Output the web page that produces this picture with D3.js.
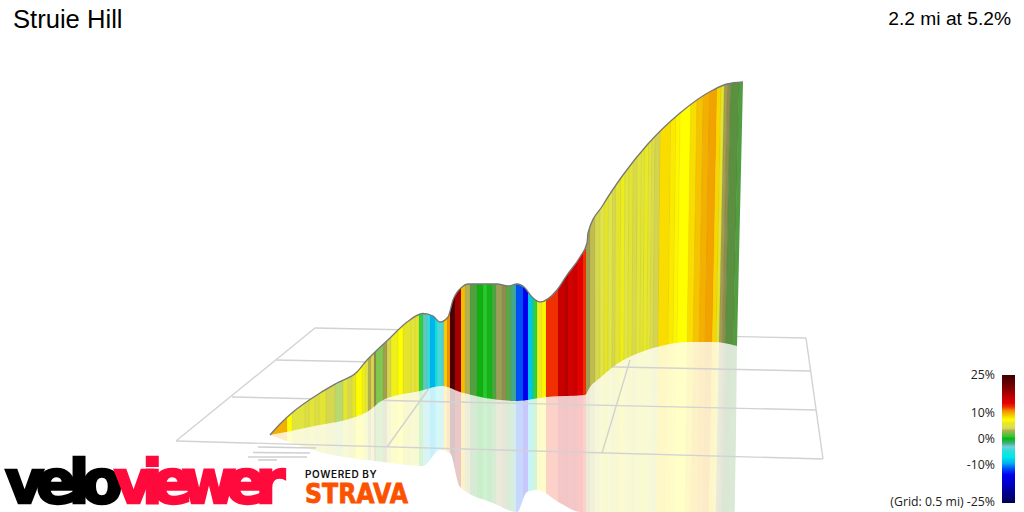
<!DOCTYPE html>
<html>
<head>
<meta charset="utf-8">
<style>
  html, body { margin: 0; padding: 0; background: #fff; }
  svg { display: block; }
</style>
<script src="https://cdn.jsdelivr.net/npm/d3@7"></script>
</head>
<body>
<svg id="chart" width="1024" height="512"></svg>
<script>
// along = distance along the projected track, height = projected height
const ridgeAlong = [0, 10, 23, 50, 67, 87, 97, 105, 120, 137, 153, 163, 170, 178, 183, 192, 198, 210, 227, 238, 247, 255, 262, 270, 287, 297, 310, 317, 318, 333, 353, 377, 410, 443, 457, 473];
const ridgeHeight = [77, 88, 100, 119, 129, 140, 152, 160, 174, 190, 198.5, 196, 190, 195, 212, 225, 228, 228, 228, 226, 228, 224, 215, 210, 222, 237, 255, 269, 279, 307, 337, 367, 399, 422, 428, 430];
const baseAlong = [0, 40, 97, 113, 150, 172, 190, 247, 277, 315, 320, 330, 343, 387, 420, 443, 467];
const baseHeight = [77, 85, 100, 112, 121, 126, 120, 111, 115, 117, 125, 134, 145, 165, 170, 170, 166];
const mirrorAlong = [0, 50, 113, 153, 170, 180, 190, 223, 247, 257, 267, 290, 310, 465];
const mirrorHeight = [77, 60, 50, 46, 62, 59, 25, 9, 0, 20, 22, 9, 0, -4];

const stripeStart = [0, 17, 22, 35, 39, 45, 49, 56, 65, 73, 78, 82, 86, 92, 95, 98, 101, 104, 106, 113, 117, 121, 128, 133, 141, 145, 149, 153, 157, 160, 165, 167, 172, 174, 177, 180, 185, 191, 195, 200, 207, 213, 217, 222, 226, 232, 236, 241, 246, 253, 258, 263, 267, 272, 276, 288, 295, 298, 303, 307, 313, 316, 320, 325, 330, 334, 338, 342, 345, 350, 354, 358, 362, 366, 370, 373, 377, 380, 383, 388, 398, 403, 407, 417, 423, 429, 435, 442, 446, 449, 452, 455, 463];
const stripeGrade = [10, 7.5, 5.2, 4.6, 5.4, 4.6, 5.6, 4.2, 2.6, 5.6, 4.4, 6, 7.6, 6.6, 5, 3.4, 4.2, 3, 2.1, 3.2, 4, 6.6, 7.4, 6, 5.2, 6, 1, -2.6, -4.5, -9.3, -7, -4, -2.8, 9, 11, 24, 18, 9.6, 3.4, 1.6, 0.3, 0.8, 0.4, 1.2, 2.9, 3, 1.7, -1.5, -11.5, -14, -8.5, 1, 6.5, 7.8, 12.5, 16, 17, 15, 16, 14, 12.5, 3.2, 3.6, 4.2, 5, 6, 5, 4.2, 5.8, 6.5, 5, 5.8, 4.4, 5.4, 5.6, 6.2, 5.2, 4.6, 4, 8.6, 8.2, 7.8, 7.5, 8.6, 9.4, 10, 10.4, 8.8, 6, 3.2, 3, 1.3, 1.55];
const stripeEnd = 468;

const gridLines = [
  [-94, 71, 553, 53],
  [-38, 115, 546, 102],
  [6, 152, 541, 141],
  [45, 184, 536, 174],
  [-94, 71, 45, 184],
  [553, 53, 536, 174],
  [117, 65, 160, 125],
  [332, 59, 360, 152]
];
const logoGhost = [
  [-12, 65, 46, 64],
  [-17, 59.5, 40, 59],
  [-22, 55, 37, 55],
  [-12, 52, 7, 52]
];

const gradeStops = [25, 20, 16, 14, 12.5, 11, 9, 8, 7.5, 6, 5, 4, 3.4, 3, 2.6, 2.1, 1.6, 1.3, 1, 0.3, -0.5, -1.5, -3, -5, -7, -9.5, -11.5, -14, -18, -25];
const gradeColors = ["#3c0000", "#800000", "#c80000", "#e40000", "#f03000", "#f09000", "#f8d000", "#fcf000", "#ffff00", "#e4e42c", "#e0e444", "#d4d450", "#b4b050", "#908c50", "#b8d870", "#80c850", "#50a040", "#5a9040", "#30d040", "#10b010", "#10c020", "#40a890", "#70d0d0", "#20e0e0", "#00e8e8", "#00b0f0", "#0050f8", "#0000f0", "#0000c0", "#000050"];
const legendStops = [25, 20, 16, 14, 12.5, 11, 9, 8, 7.5, 6, 5, 4, 3.4, 0.8, 0.3, -0.5, -1.5, -3, -5, -7, -9.5, -11.5, -14, -18, -25];
const legendTicks = [25, 10, 0, -10, -25];

const x = d3.scaleLinear().domain([0, 473]).range([270, 743]);
const y = d3.scaleLinear().domain([0, 512]).range([512, 0]);
const legendY = d3.scaleLinear().domain([-25, 25]).range([503, 375]);
const color = d3.scaleLinear().domain(gradeStops).range(gradeColors);

const svg = d3.select("#chart");
const defs = svg.append("defs");

const curve = d3.line().x((d) => x(d[0])).y((d) => y(d[1])).curve(d3.curveMonotoneX);
const ridge = d3.zip(ridgeAlong, ridgeHeight);
const base = d3.zip(baseAlong, baseHeight);
const mirror = d3.zip(mirrorAlong, mirrorHeight);
const baseBack = base.slice().reverse();

defs.append("clipPath").attr("id", "wall").append("path")
  .attr("d", curve(ridge) + "L" + curve(baseBack).slice(1) + "Z");
defs.append("clipPath").attr("id", "reflect").append("path")
  .attr("d", curve(mirror) + "L" + curve(baseBack).slice(1) + "Z");

// walls lean outwards a little on the far side of the climb
const lean = (along, h) => (along > 320 ? ((along - 320) / 148) * 6 * ((h - 166) / 264) : 0);
const stripePath = (d, i) => {
  const a = d;
  const b = i + 1 < stripeStart.length ? stripeStart[i + 1] : stripeEnd;
  const top = 460, bot = -10;
  return "M" + [
    [x(a) + lean(a, top), y(top)],
    [x(b + 0.4) + lean(b, top), y(top)],
    [x(b + 0.4) + lean(b, bot), y(bot)],
    [x(a) + lean(a, bot), y(bot)]
  ].join("L") + "Z";
};

function drawStripes(id, opacity, edge) {
  svg.append("g").attr("clip-path", `url(#${id})`).attr("opacity", opacity)
    .selectAll("path").data(stripeStart).enter().append("path")
    .attr("d", stripePath)
    .attr("fill", (d, i) => color(stripeGrade[i]))
    .attr("stroke", edge)
    .attr("stroke-width", 0.5);
}

drawStripes("reflect", 0.22, "none");

svg.append("g").selectAll("line").data(gridLines).enter().append("line")
  .attr("x1", (d) => x(d[0])).attr("y1", (d) => y(d[1]))
  .attr("x2", (d) => x(d[2])).attr("y2", (d) => y(d[3]))
  .attr("stroke", "#d2d2d2").attr("stroke-width", 1.4);

svg.append("g").selectAll("line").data(logoGhost).enter().append("line")
  .attr("x1", (d) => x(d[0])).attr("y1", (d) => y(d[1]))
  .attr("x2", (d) => x(d[2])).attr("y2", (d) => y(d[3]))
  .attr("stroke", "#cfcfcf").attr("stroke-width", 1.6);

drawStripes("wall", 1, "rgba(60,60,0,0.12)");

svg.append("path").attr("d", curve(ridge))
  .attr("fill", "none").attr("stroke", "#777").attr("stroke-width", 1.3);

// titles
svg.append("text").attr("x", 13).attr("y", 28).text("Struie Hill")
  .attr("font-family", "Liberation Sans").attr("font-size", 25.6).attr("fill", "#000");
svg.append("text").attr("x", 1011).attr("y", 25).attr("text-anchor", "end").text("2.2 mi at 5.2%")
  .attr("font-family", "Liberation Sans").attr("font-size", 19.2).attr("fill", "#000");

// gradient legend
const grad = defs.append("linearGradient").attr("id", "legendGrad")
  .attr("x1", 0).attr("x2", 0).attr("y1", 1).attr("y2", 0);
grad.selectAll("stop").data(legendStops.slice().reverse()).enter().append("stop")
  .attr("offset", (d) => (d + 25) / 50)
  .attr("stop-color", (d) => color(d));
svg.append("rect").attr("x", 1002).attr("y", legendY(25)).attr("width", 13)
  .attr("height", legendY(-25) - legendY(25)).attr("fill", "url(#legendGrad)");
svg.append("g").selectAll("text").data(legendTicks).enter().append("text")
  .attr("x", 995).attr("y", (d) => legendY(d) + (d === 25 ? 4 : d === -25 ? 3 : 4))
  .attr("text-anchor", "end")
  .attr("font-family", "Open Sans").attr("font-size", 12.3).attr("fill", "#222")
  .text((d) => (d === -25 ? "(Grid: 0.5 mi) -25%" : d + "%"));

// logos
const logo = svg.append("g").attr("font-family", "DejaVu Sans").attr("font-weight", "bold");
logo.append("text").attr("x", 5).attr("y", 503).attr("font-size", 60).attr("fill", "#000")
  .attr("stroke", "#000").attr("stroke-width", 2.5)
  .attr("letter-spacing", -8).text("velo");
logo.append("text").attr("x", 114).attr("y", 503).attr("font-size", 60).attr("fill", "#ff0a3c")
  .attr("stroke", "#ff0a3c").attr("stroke-width", 2.5)
  .attr("letter-spacing", -11).text("viewer");
svg.append("text").attr("x", 305).attr("y", 478).attr("font-family", "Inter").attr("font-weight", 600)
  .attr("font-size", 10).attr("letter-spacing", 0.6).attr("fill", "#111").text("POWERED BY");
logo.append("text").attr("x", 305).attr("y", 503).attr("font-size", 27).attr("fill", "#fc5200")
  .attr("stroke", "#fc5200").attr("stroke-width", 0.8)
  .attr("textLength", 103).attr("lengthAdjust", "spacingAndGlyphs").text("STRAVA");
</script>
</body>
</html>
